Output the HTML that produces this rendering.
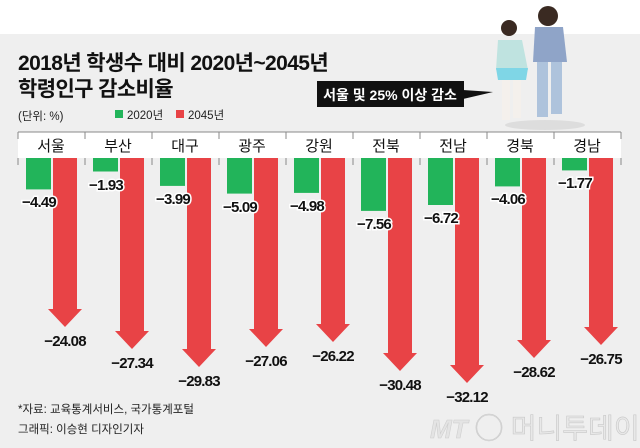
<!DOCTYPE html>
<html><head><meta charset="utf-8"><style>
body{margin:0;width:640px;height:448px;overflow:hidden;background:#fff;}
svg{display:block}
text{font-family:"Liberation Sans","Noto Sans CJK KR",sans-serif}
.gl{font-size:15px;font-weight:bold;text-anchor:middle;letter-spacing:-0.8px;stroke:#fff;stroke-width:3px;paint-order:stroke;fill:#111}
.rl{font-size:15px;font-weight:bold;text-anchor:middle;letter-spacing:-0.8px;fill:#111}
</style></head><body>
<svg width="640" height="448" viewBox="0 0 640 448" xmlns="http://www.w3.org/2000/svg">
<rect x="0" y="34" width="640" height="414" fill="#efefef"/>
<text x="18" y="70" font-size="21" font-weight="bold" fill="#111" letter-spacing="-0.6">2018년 학생수 대비 2020년~2045년</text>
<text x="18" y="96" font-size="21" font-weight="bold" fill="#111" letter-spacing="-0.6">학령인구 감소비율</text>
<text x="18" y="120" font-size="11.5" fill="#222">(단위: %)</text>
<rect x="115" y="110" width="8" height="8" fill="#22b45a"/>
<text x="127" y="119" font-size="11.5" fill="#222">2020년</text>
<rect x="176" y="110" width="8" height="8" fill="#e84346"/>
<text x="188" y="119" font-size="11.5" fill="#222">2045년</text>
<rect x="317" y="81" width="147" height="26" fill="#111"/>
<polygon points="463,90 493,92 463,99" fill="#111"/>
<text x="390" y="100" font-size="14" font-weight="bold" fill="#fff" text-anchor="middle">서울 및 25% 이상 감소</text>
<ellipse cx="545" cy="125" rx="40" ry="5" fill="#ddd"/>
<circle cx="509" cy="28" r="8" fill="#3a2a22"/>
<path d="M498 40 L522 40 L528 70 L496 70 Z" fill="#bfe3e0"/>
<path d="M496 68 L528 68 L526 80 L498 80 Z" fill="#7fd6e6"/>
<rect x="502" y="80" width="8" height="40" fill="#f4f0ec"/>
<rect x="513" y="80" width="8" height="38" fill="#f4f0ec"/>
<circle cx="548" cy="16" r="10" fill="#3a2a22"/>
<path d="M535 27 L563 27 L567 62 L533 62 Z" fill="#8fa4c8"/>
<rect x="537" y="62" width="11" height="55" fill="#aec3dc"/>
<rect x="551" y="62" width="11" height="52" fill="#aec3dc"/>
<rect x="18" y="132" width="603" height="26" fill="#fff"/>
<line x1="18" y1="132" x2="621" y2="132" stroke="#888" stroke-width="1"/>
<g stroke="#888" stroke-width="1">
<line x1="18" y1="132" x2="18" y2="139"/><line x1="85" y1="132" x2="85" y2="139"/><line x1="152" y1="132" x2="152" y2="139"/><line x1="219" y1="132" x2="219" y2="139"/><line x1="286" y1="132" x2="286" y2="139"/><line x1="353" y1="132" x2="353" y2="139"/><line x1="420" y1="132" x2="420" y2="139"/><line x1="487" y1="132" x2="487" y2="139"/><line x1="554" y1="132" x2="554" y2="139"/><line x1="621" y1="132" x2="621" y2="139"/>
<line x1="18" y1="158" x2="18" y2="165"/><line x1="85" y1="158" x2="85" y2="165"/><line x1="152" y1="158" x2="152" y2="165"/><line x1="219" y1="158" x2="219" y2="165"/><line x1="286" y1="158" x2="286" y2="165"/><line x1="353" y1="158" x2="353" y2="165"/><line x1="420" y1="158" x2="420" y2="165"/><line x1="487" y1="158" x2="487" y2="165"/><line x1="554" y1="158" x2="554" y2="165"/><line x1="621" y1="158" x2="621" y2="165"/>
</g>
<g font-size="15" fill="#111" text-anchor="middle">
<text x="51" y="151">서울</text><text x="118" y="151">부산</text><text x="185" y="151">대구</text><text x="252" y="151">광주</text><text x="319" y="151">강원</text><text x="386" y="151">전북</text><text x="453" y="151">전남</text><text x="520" y="151">경북</text><text x="587" y="151">경남</text>
</g>
<g fill="#22b45a">
<rect x="26" y="158" width="25" height="31.4"/>
<rect x="93" y="158" width="25" height="13.5"/>
<rect x="160" y="158" width="25" height="27.9"/>
<rect x="227" y="158" width="25" height="35.6"/>
<rect x="294" y="158" width="25" height="34.9"/>
<rect x="361" y="158" width="25" height="52.9"/>
<rect x="428" y="158" width="25" height="47"/>
<rect x="495" y="158" width="25" height="28.4"/>
<rect x="562" y="158" width="25" height="12.4"/>
</g>
<g fill="#e84346">
<polygon points="53,158 77,158 77,309 82,309 65,327 48,309 53,309"/>
<polygon points="120,158 144,158 144,331 149,331 132,349 115,331 120,331"/>
<polygon points="187,158 211,158 211,349 216,349 199,367 182,349 187,349"/>
<polygon points="254,158 278,158 278,329 283,329 266,347 249,329 254,329"/>
<polygon points="321,158 345,158 345,324 350,324 333,342 316,324 321,324"/>
<polygon points="388,158 412,158 412,353 417,353 400,371 383,353 388,353"/>
<polygon points="455,158 479,158 479,365 484,365 467,383 450,365 455,365"/>
<polygon points="522,158 546,158 546,340 551,340 534,358 517,340 522,340"/>
<polygon points="589,158 613,158 613,327 618,327 601,345 584,327 589,327"/>
</g>
<text class="gl" x="39" y="207">−4.49</text>
<text class="gl" x="106" y="190">−1.93</text>
<text class="gl" x="173" y="204">−3.99</text>
<text class="gl" x="240" y="212">−5.09</text>
<text class="gl" x="307" y="211">−4.98</text>
<text class="gl" x="374" y="229">−7.56</text>
<text class="gl" x="441" y="223">−6.72</text>
<text class="gl" x="508" y="204">−4.06</text>
<text class="gl" x="575" y="188">−1.77</text>
<text class="rl" x="65" y="346">−24.08</text>
<text class="rl" x="132" y="368">−27.34</text>
<text class="rl" x="199" y="386">−29.83</text>
<text class="rl" x="266" y="366">−27.06</text>
<text class="rl" x="333" y="361">−26.22</text>
<text class="rl" x="400" y="390">−30.48</text>
<text class="rl" x="467" y="402">−32.12</text>
<text class="rl" x="534" y="377">−28.62</text>
<text class="rl" x="601" y="364">−26.75</text>
<text x="18" y="413" font-size="11.5" fill="#222">*자료: 교육통계서비스, 국가통계포털</text>
<text x="18" y="433" font-size="11.5" fill="#222">그래픽: 이승현 디자인기자</text>
<text x="430" y="438" font-size="26" font-style="italic" font-weight="bold" fill="#e4e4e4" stroke="#cfcfcf" stroke-width="0.6">MT</text>
<text x="475" y="438" font-size="28" fill="#e8e8e8" stroke="#c8c8c8" stroke-width="0.6">◯ 머니투데이</text>
</svg>
</body></html>
